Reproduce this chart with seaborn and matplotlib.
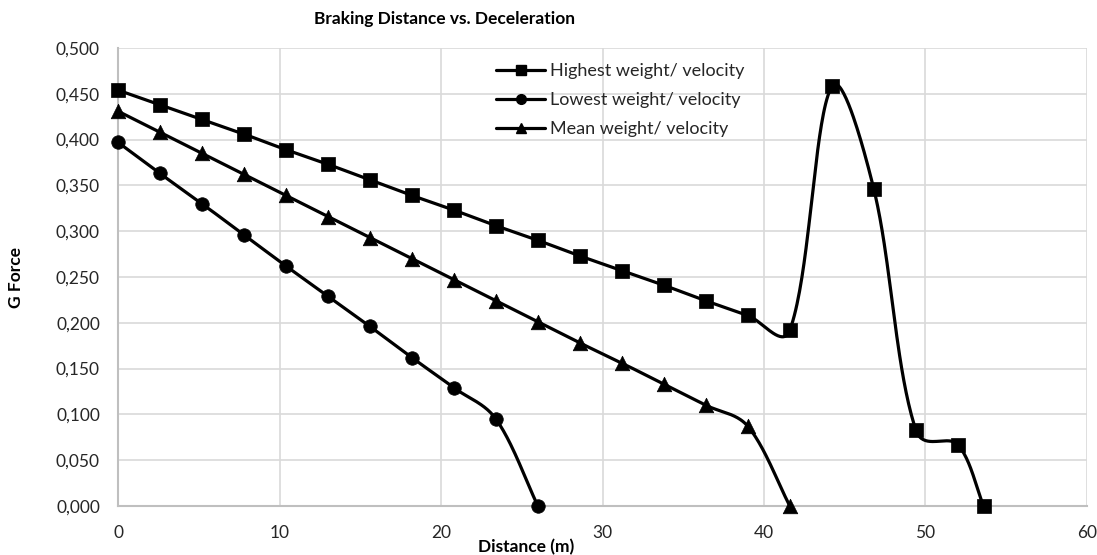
import numpy as np
import pandas as pd
import seaborn as sns
import matplotlib.pyplot as plt
from matplotlib.lines import Line2D
from matplotlib.ticker import FuncFormatter, MultipleLocator

# data
high_x = [0, 2.6, 5.2, 7.8, 10.4, 13.0, 15.6, 18.2, 20.8, 23.4, 26.0, 28.6, 31.2,
          33.8, 36.4, 39.0, 41.6, 44.2, 46.8, 49.4, 52.0, 53.6]
high_y = [0.454, 0.438, 0.422, 0.406, 0.389, 0.373, 0.356, 0.339, 0.323, 0.306, 0.290,
          0.273, 0.257, 0.241, 0.224, 0.208, 0.192, 0.458, 0.346, 0.083, 0.067, 0.000]
low_x = [0, 2.6, 5.2, 7.8, 10.4, 13.0, 15.6, 18.2, 20.8, 23.4, 26.0]
low_y = [0.397, 0.363, 0.330, 0.296, 0.262, 0.229, 0.196, 0.162, 0.129, 0.095, 0.000]
mean_x = [0, 2.6, 5.2, 7.8, 10.4, 13.0, 15.6, 18.2, 20.8, 23.4, 26.0, 28.6, 31.2,
          33.8, 36.4, 39.0, 41.6]
mean_y = [0.431, 0.408, 0.385, 0.362, 0.339, 0.316, 0.293, 0.270, 0.247, 0.224, 0.201,
          0.178, 0.156, 0.133, 0.110, 0.087, 0.000]
labels = ['Highest weight/ velocity', 'Lowest weight/ velocity', 'Mean weight/ velocity']
markers = ['s', 'o', '^']

# px per data unit, used so the smoothing works in screen space like excel
SX, SY = 16.15, 916.0


def smooth(x, y, n=40):
    # bezier through the points, handles partly scaled by neighbouring segment lengths
    p = np.column_stack([np.asarray(x, float) * SX, np.asarray(y, float) * SY])
    p = np.vstack([p[0], p, p[-1]])
    t = np.linspace(0, 1, n)[:, None]
    out = []
    for i in range(1, len(p) - 2):
        p0, p1, p2, p3 = p[i - 1], p[i], p[i + 1], p[i + 2]
        d01 = np.linalg.norm(p1 - p0)
        d12 = np.linalg.norm(p2 - p1)
        d23 = np.linalg.norm(p3 - p2)
        r1 = d12 / (d01 + d12) if d01 + d12 > 0 else 0
        r2 = d12 / (d12 + d23) if d12 + d23 > 0 else 0
        f1 = 0.3 * 0.5 + 0.7 * r1
        f2 = 0.3 * 0.5 + 0.7 * r2
        c1 = p1 + (p2 - p0) * f1 / 3
        c2 = p2 - (p3 - p1) * f2 / 3
        b = (1 - t) ** 3 * p1 + 3 * (1 - t) ** 2 * t * c1 + 3 * (1 - t) * t ** 2 * c2 + t ** 3 * p2
        out.append(b)
    out = np.vstack(out)
    return out[:, 0] / SX, out[:, 1] / SY


sns.set_style('white')
plt.rcParams['font.family'] = ['Lato', 'DejaVu Sans']

fig = plt.figure(figsize=(10.97, 5.55), dpi=100)
ax = fig.add_axes([118 / 1097, 1 - 506 / 555, (1087 - 118) / 1097, (506 - 48) / 555])

series = [(high_x, high_y), (low_x, low_y), (mean_x, mean_y)]
for (xv, yv), lab, m in zip(series, labels, markers):
    sx, sy = smooth(xv, yv)
    curve = pd.DataFrame({'x': sx, 'y': sy})
    sns.lineplot(data=curve, x='x', y='y', sort=False, color='black', lw=2.3, ax=ax, zorder=3)
    pts = pd.DataFrame({'x': xv, 'y': yv})
    sns.scatterplot(data=pts, x='x', y='y', marker=m, s=95 if m != '^' else 110,
                    color='black', edgecolor='black', linewidth=0.5, ax=ax, zorder=4, clip_on=False)

ax.set_xlim(0, 60)
ax.set_ylim(0, 0.5)
ax.xaxis.set_major_locator(MultipleLocator(10))
ax.yaxis.set_major_locator(MultipleLocator(0.05))
ax.yaxis.set_major_formatter(FuncFormatter(lambda v, p: f'{v:.3f}'.replace('.', ',')))
ax.grid(True, color='#d9d9d9', lw=1.2)
ax.set_axisbelow(True)
for s in ['top', 'right']:
    ax.spines[s].set_visible(False)
for s in ['left', 'bottom']:
    ax.spines[s].set_color('#bfbfbf')
    ax.spines[s].set_linewidth(1.5)
ax.tick_params(length=0, labelsize=12.5, colors='#262626')
ax.tick_params(axis='x', pad=14)
ax.tick_params(axis='y', pad=13)
ax.set_xlabel('')
ax.set_ylabel('')

fig.text(445 / 1097, 1 - 19 / 555, 'Braking Distance vs. Deceleration', ha='center', va='center',
         fontsize=12.5, fontweight='bold', color='black')
fig.text(526 / 1097, 1 - 547 / 555, 'Distance (m)', ha='center', va='center',
         fontsize=12.5, fontweight='bold', color='black')
fig.text(16 / 1097, 1 - 277 / 555, 'G Force', ha='center', va='center', rotation=90,
         fontsize=12.5, fontweight='bold', color='black')

handles = [Line2D([0], [0], color='black', lw=2.3, marker=m, markersize=7) for m in markers]
ax.legend(handles, labels, loc='upper left', bbox_to_anchor=(480 / 1097, 1 - 47 / 555),
          bbox_transform=fig.transFigure, frameon=False, fontsize=13, handlelength=2.7,
          labelspacing=0.72, handletextpad=0.3, labelcolor='#262626')

fig.savefig('out.png', dpi=100)
